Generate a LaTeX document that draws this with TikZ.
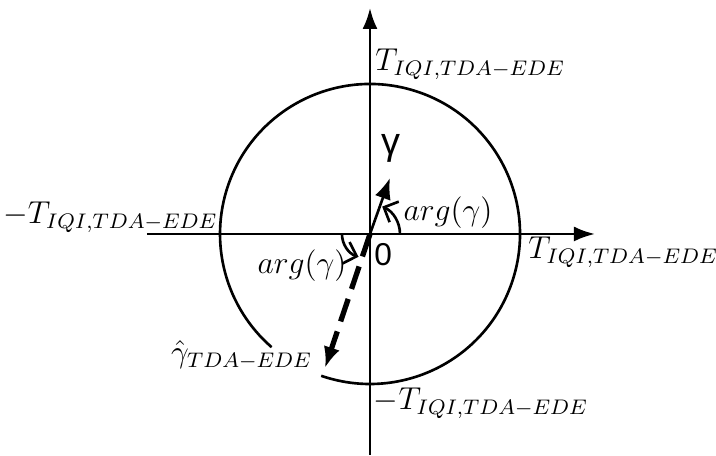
\documentclass[tikz,border=0pt]{standalone}
\usepackage{fontspec}
\newfontfamily\lsans{Liberation Sans}
\usetikzlibrary{arrows.meta}
\begin{document}
\begin{tikzpicture}[scale=2, line width=1pt, every node/.style={font=\large}]
    \useasboundingbox (-2.467,-1.48) rectangle (2.307,1.56);
    \draw [-{Latex[length=2.8mm,width=2mm]}] (-1.487,0) -- (1.5,0);
    \draw [-{Latex[length=2.8mm,width=2mm]}] (0,-1.473) -- (0,1.507);
    \draw (251:1) arc (251:589:1);
    \coordinate (O) at (0,0);
    \coordinate (g) at (0.133,0.373);
    \coordinate (gh) at (-0.3,-0.893);
    \draw [-{Latex[length=2.8mm,width=2.2mm]}] (O) -- (g);
    \draw [-{Latex[length=2.8mm,width=2.2mm]}, line width=2pt, dash pattern=on 9pt off 4pt] (O) -- (gh);
    \draw [-{Straight Barb[length=1.5mm]}] (0.2,0) arc (0:66:0.2);
    \draw [-{Straight Barb[length=1.5mm]}] (-0.187,0) arc (180:252:0.16);
    \path (0.01,1.133) node (tqtop) [anchor=west, inner sep=1pt] {$T_{IQI,TDA-EDE}$};
    \path (-0.99,0.113) node (tqleft) [anchor=east, inner sep=1pt] {$-T_{IQI,TDA-EDE}$};
    \path (1.03,-0.12) node (tqright) [anchor=west, inner sep=1pt] {$T_{IQI,TDA-EDE}$};
    \path (0,-1.127) node (tqbot) [anchor=west, inner sep=1pt] {$-T_{IQI,TDA-EDE}$};
    \path (-0.36,-0.807) node (ghat) [anchor=east, inner sep=1pt] {$\hat{\gamma}_{TDA-EDE}$};
    \path (0.14,0.573) node (gam) {\lsans\Large γ};
    \path (0.087,-0.14) node (zero) {\lsans 0};
    \path (0.52,0.14) node (arg1) {$arg(\gamma)$};
    \path (-0.453,-0.213) node (arg2) {$arg(\gamma)$};
\end{tikzpicture}
\end{document}
